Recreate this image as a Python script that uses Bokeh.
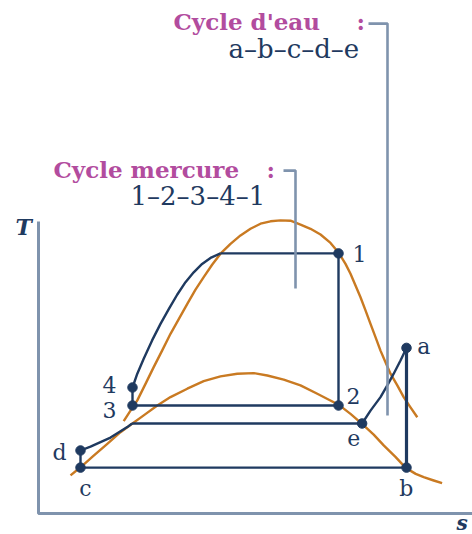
from bokeh.plotting import figure
from bokeh.models import Range1d
from bokeh.core.properties import value
from bokeh.embed import file_html
from bokeh.resources import INLINE

# Diagramme T-s : cycle binaire mercure / eau (entropie s, temperature T, unites arbitraires)

# Courbe de saturation du mercure
hg_s = [2.13, 2.3, 2.47, 2.675, 2.88, 3.09, 3.3, 3.51, 3.72, 3.925, 4.13, 4.34, 4.55,
        4.8, 5.05, 5.3, 5.55, 5.8, 6.05, 6.3, 6.55, 6.8, 7.05, 7.3, 7.51, 7.675, 7.8,
        7.925, 8.05, 8.175, 8.3, 8.425, 8.55, 8.675, 8.8, 8.97, 9.13, 9.3, 9.47]
hg_T = [3.08, 3.43, 3.77, 4.32, 4.88, 5.43, 5.99, 6.49, 6.99, 7.46, 7.88, 8.29, 8.66,
        8.99, 9.27, 9.49, 9.66, 9.74, 9.77, 9.76, 9.63, 9.49, 9.3, 9.02, 8.68, 8.32, 7.99,
        7.6, 7.21, 6.77, 6.32, 5.88, 5.43, 5.04, 4.66, 4.27, 3.88, 3.54, 3.21]

# Courbe de saturation de l'eau
w_s = [0.8, 1.05, 1.38, 1.72, 2.05, 2.34, 2.63, 2.97, 3.3, 3.72, 4.13, 4.55, 4.97,
       5.38, 5.72, 6.13, 6.55, 6.97, 7.26, 7.51, 7.8, 8.09, 8.38, 8.63, 8.93, 9.18,
       9.43, 9.63, 9.88, 10.09]
w_T = [1.27, 1.54, 1.93, 2.32, 2.71, 2.99, 3.27, 3.6, 3.88, 4.16, 4.41, 4.57, 4.66,
       4.68, 4.6, 4.46, 4.27, 3.99, 3.79, 3.62, 3.32, 2.99, 2.63, 2.27, 1.88, 1.52,
       1.32, 1.21, 1.1, 1.01]

# Etats du cycle mercure 1-2-3-4
hg_pts = ["1", "2", "3", "4"]
hg_pts_s = [7.5, 7.5, 2.35, 2.35]
hg_pts_T = [8.67, 3.6, 3.6, 4.2]
# Chauffage 4 -> liquide sature
hg_heat_s = [2.35, 2.47, 2.63, 2.84, 3.05, 3.26, 3.47, 3.675, 3.88, 4.09, 4.3, 4.55]
hg_heat_T = [4.2, 4.66, 5.16, 5.77, 6.32, 6.82, 7.3, 7.71, 8.04, 8.32, 8.52, 8.67]

# Etats du cycle eau a-b-c-d-e
w_pts = ["a", "b", "c", "d", "e"]
w_pts_s = [9.2, 9.2, 1.05, 1.05, 8.09]
w_pts_T = [5.52, 1.53, 1.53, 2.1, 3.0]
# Chauffage d -> liquide sature
w_heat_s = [1.05, 1.3, 1.55, 1.8, 2.05, 2.22, 2.34]
w_heat_T = [2.1, 2.23, 2.38, 2.53, 2.74, 2.88, 3.0]
# Surchauffe e -> a
w_sup_s = [8.09, 8.3, 8.55, 8.72, 8.88, 9.05, 9.2]
w_sup_T = [3.0, 3.43, 3.88, 4.27, 4.66, 5.1, 5.52]

# Positions des etiquettes des etats
hg_lab_s = [7.85, 7.7, 1.6, 1.6]
hg_lab_T = [8.65, 3.92, 3.45, 4.28]
w_lab_s = [9.47, 9.02, 1.02, 0.35, 7.72]
w_lab_T = [5.58, 0.85, 0.85, 2.02, 2.52]

# Renvois des legendes
hg_call_s = [6.125, 6.425, 6.425]
hg_call_T = [11.43, 11.43, 7.5]
w_call_s = [8.25, 8.725, 8.725]
w_call_T = [16.33, 16.33, 3.27]

NAVY = "#1f3a60"
ORANGE = "#c97a22"
AXIS = "#7f93ad"
MAGENTA = "#b24c9e"
SERIF = "DejaVu Serif"

p = figure(width=472, height=534, output_backend="svg", toolbar_location=None,
           x_range=Range1d(-0.95, 10.85), y_range=Range1d(-0.7, 17.1),
           x_axis_type=None, y_axis_type=None, min_border=0,
           background_fill_color="white", border_fill_color="white")
p.outline_line_color = None
p.grid.visible = False

# Axes T et s
p.line([0, 0, 10.85], [9.73, 0, 0], line_color=AXIS, line_width=3)

# Courbes de saturation
p.line(hg_s, hg_T, line_color=ORANGE, line_width=2.4, line_join="round")
p.line(w_s, w_T, line_color=ORANGE, line_width=2.4, line_join="round")

# Cycle mercure
p.line(hg_heat_s, hg_heat_T, line_color=NAVY, line_width=2.4, line_join="round")
p.line([hg_heat_s[-1], hg_pts_s[0], hg_pts_s[1], hg_pts_s[2], hg_pts_s[3]],
       [hg_heat_T[-1], hg_pts_T[0], hg_pts_T[1], hg_pts_T[2], hg_pts_T[3]],
       line_color=NAVY, line_width=2.4)

# Cycle eau
p.line(w_heat_s, w_heat_T, line_color=NAVY, line_width=2.4, line_join="round")
p.line([w_heat_s[-1], w_pts_s[4]], [w_heat_T[-1], w_pts_T[4]], line_color=NAVY, line_width=2.4)
p.line(w_sup_s, w_sup_T, line_color=NAVY, line_width=2.4, line_join="round")
p.line([w_pts_s[0], w_pts_s[1]], [w_pts_T[0], w_pts_T[1]], line_color=NAVY, line_width=3.2)
p.line([w_pts_s[1], w_pts_s[2], w_pts_s[3]], [w_pts_T[1], w_pts_T[2], w_pts_T[3]],
       line_color=NAVY, line_width=2.4)

# Renvois
p.line(hg_call_s, hg_call_T, line_color=AXIS, line_width=2.6)
p.line(w_call_s, w_call_T, line_color=AXIS, line_width=2.6)

# Etats
p.scatter(hg_pts_s, hg_pts_T, size=9.5, color=NAVY)
p.scatter(w_pts_s, w_pts_T, size=9.5, color=NAVY)

p.text(hg_lab_s, hg_lab_T, text=hg_pts, text_font=value(SERIF), text_font_size="22px",
       text_color=NAVY, text_baseline="alphabetic", text_align="left")
p.text(w_lab_s, w_lab_T, text=w_pts, text_font=value(SERIF), text_font_size="22px",
       text_color=NAVY, text_baseline="alphabetic", text_align="left")

# Titres des axes
p.text([-0.575], [9.55], text=["T"], text_font=value(SERIF), text_font_size="22px",
       text_font_style="bold italic", text_color=NAVY, text_baseline="alphabetic")
p.text([10.45], [-0.3], text=["s"], text_font=value(SERIF), text_font_size="20px",
       text_font_style="bold italic", text_color=NAVY, text_baseline="alphabetic")

# Legendes des cycles
p.text([3.375, 0.375], [16.4, 11.47], text=["Cycle d'eau", "Cycle mercure"],
       text_font=value(SERIF), text_font_size="23px", text_font_style="bold",
       text_color=MAGENTA, text_baseline="alphabetic")
p.text([7.95, 5.7], [16.4, 11.47], text=[":", ":"],
       text_font=value(SERIF), text_font_size="23px", text_font_style="bold",
       text_color=MAGENTA, text_baseline="alphabetic")
p.text([4.75, 2.3], [15.5, 10.6], text=["a\u2013b\u2013c\u2013d\u2013e", "1\u20132\u20133\u20134\u20131"],
       text_font=value(SERIF), text_font_size="26px",
       text_color=NAVY, text_baseline="alphabetic")

open("out.html", "w").write(file_html(p, INLINE))
